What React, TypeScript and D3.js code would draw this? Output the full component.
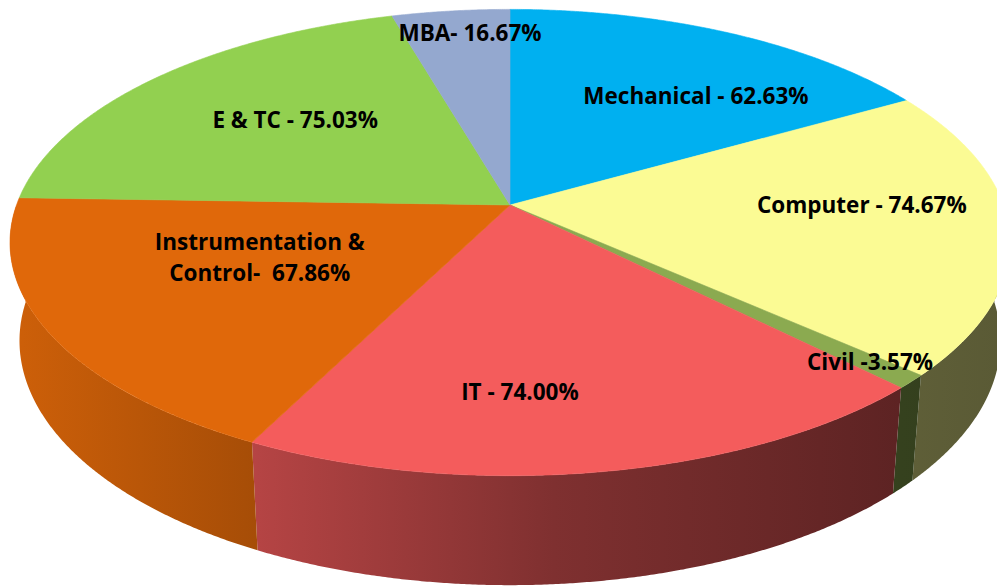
import React from 'react';
import * as d3 from 'd3';

// pass percentage by department
const departments = ['Mechanical', 'Computer', 'Civil', 'IT', 'Instrumentation & Control', 'E & TC', 'MBA'];
const passPercent = [62.63, 74.67, 3.57, 74.0, 67.86, 75.03, 16.67];
const labelLines = [
  ['Mechanical - 62.63%'],
  ['Computer - 74.67%'],
  ['Civil -3.57%'],
  ['IT - 74.00%'],
  ['Instrumentation &', 'Control-  67.86%'],
  ['E & TC - 75.03%'],
  ['MBA- 16.67%'],
];
const topColors = ['#00B0F0', '#FBFB94', '#8BAA50', '#F45C5C', '#E0680A', '#92D050', '#94A8CF'];
// label placement in pie space: angle (deg, clockwise from 12 o'clock) and radius fraction
const labelAngle = [38.1, 90, 133.5, 178.6, 245.3, 310.7, 353.9];
const labelRadius = [0.662, 0.713, 0.905, 0.728, 0.538, 0.611, 0.868];

const W = 997;
const H = 588;

// perspective camera
const cx = 510;
const cy = 205;
const focal = 2721;
const dist = 5.514;
const tilt = (27.4 * Math.PI) / 180;
const thick = 0.226;

function project(theta: number, r: number, y: number): [number, number] {
  const X = r * Math.sin(theta);
  const Z = r * Math.cos(theta);
  const yv = y * Math.cos(tilt) + Z * Math.sin(tilt);
  const d = dist - y * Math.sin(tilt) + Z * Math.cos(tilt);
  return [cx + (focal * X) / d, cy - (focal * yv) / d];
}

function samples(a: number, b: number) {
  const n = Math.max(2, Math.ceil(Math.abs(b - a) / 0.005));
  return d3.range(n + 1).map((i) => a + ((b - a) * i) / n);
}

const shade = [
  [0, 0.92],
  [0.25, 0.74],
  [0.55, 0.52],
  [0.9, 0.38],
  [1, 0.36],
];

export default function App() {
  const arcs = d3.pie<number>().sort(null).value((d) => d)(passPercent);
  const line = d3.line();

  const frontA = Math.PI / 2;
  const frontB = (3 * Math.PI) / 2;

  return (
    <svg width={W} height={H} style={{ position: 'absolute', left: 0, top: 0, background: '#fff' }}>
      <defs>
        {arcs.map((a, i) => (
          <linearGradient key={i} id={`wall${i}`} gradientUnits="userSpaceOnUse" x1={10} x2={1000} y1={0} y2={0}>
            {shade.map(([o, k]) => {
              const c = d3.rgb(topColors[i]);
              return (
                <stop key={o} offset={o} stopColor={d3.rgb(c.r * k, c.g * k, c.b * k).formatHex()} />
              );
            })}
          </linearGradient>
        ))}
      </defs>

      {/* outer walls, front half only */}
      {arcs.map((a, i) => {
        const s = Math.max(a.startAngle, frontA);
        const e = Math.min(a.endAngle, frontB);
        if (e <= s) return null;
        const ts = samples(s, e);
        const pts = [
          ...ts.map((t) => project(t, 1, 0)),
          ...ts.slice().reverse().map((t) => project(t, 1, -thick)),
        ];
        return <path key={i} d={line(pts as [number, number][]) + 'Z'} fill={`url(#wall${i})`} />;
      })}

      {/* top faces */}
      {arcs.map((a, i) => {
        const pts = [project(0, 0, 0), ...samples(a.startAngle, a.endAngle).map((t) => project(t, 1, 0))];
        return (
          <path
            key={i}
            d={line(pts as [number, number][]) + 'Z'}
            fill={topColors[i]}
            stroke={topColors[i]}
            strokeWidth={0.6}
          />
        );
      })}

      {/* labels */}
      {arcs.map((a, i) => {
        const [x, y] = project((labelAngle[i] * Math.PI) / 180, labelRadius[i], 0);
        const lines = labelLines[i];
        const lh = 31;
        return (
          <text
            key={i}
            x={x}
            y={y}
            textAnchor="middle"
            fontFamily="'Open Sans', sans-serif"
            fontWeight={700}
            fontSize={22.5}
            fill="#000"
            style={{ whiteSpace: 'pre' }}
          >
            {lines.map((l, j) => (
              <tspan key={j} x={x} y={y + (j - (lines.length - 1) / 2) * lh} dy="0.35em">
                {l}
              </tspan>
            ))}
            <title>{departments[i]}</title>
          </text>
        );
      })}
    </svg>
  );
}
